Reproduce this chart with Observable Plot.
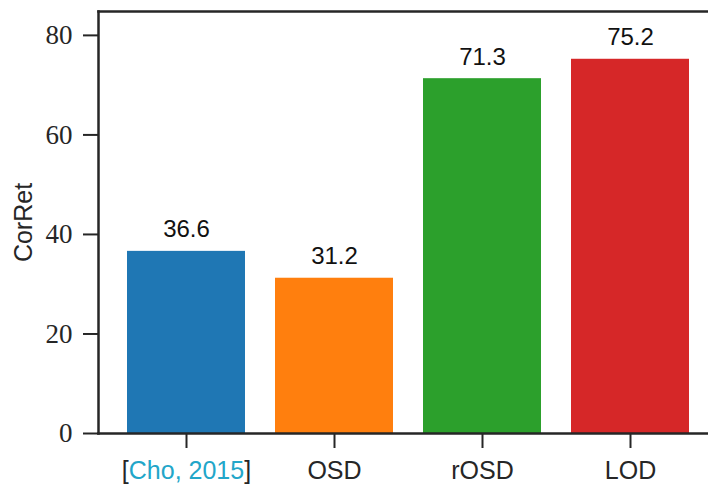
<!DOCTYPE html>
<html><head><meta charset="utf-8">
<script src="https://cdn.jsdelivr.net/npm/d3@7"></script>
<script src="https://cdn.jsdelivr.net/npm/@observablehq/plot@0.6"></script>
<style>body{margin:0;background:#fff} #chart{width:708px;height:486px}</style>
</head><body><div id="chart"></div>
<script>
const categories = ["[Cho, 2015]", "OSD", "rOSD", "LOD"];
const values = [36.6, 31.2, 71.3, 75.2];
const colors = ["#1f77b4", "#ff7f0e", "#2ca02c", "#d62728"];
const yTicks = [0, 20, 40, 60, 80];
const yLabel = "CorRet";
const citeColor = "#22a6c9";

const data = categories.map((c, i) => ({category: c, value: values[i], color: colors[i]}));
const ink = "#262626";

const chart = Plot.plot({
  width: 708, height: 486,
  marginLeft: 98, marginTop: 11, marginBottom: 53, marginRight: 0,
  style: {background: "#fff", color: ink, overflow: "hidden"},
  x: {domain: categories, range: [98, 718], paddingInner: 0.2, paddingOuter: 0.19, align: 0.5},
  y: {domain: [0, 84.8], range: [433, 11]},
  marks: [
    Plot.barY(data, {x: "category", y: "value", fill: "color"}),
    Plot.text(data, {x: "category", y: "value", text: d => d.value.toFixed(1), dy: -14, lineAnchor: "bottom",
      fontSize: 24, fontFamily: "Liberation Sans", fill: "#111"}),
    Plot.axisY({ticks: yTicks, tickSize: 15, tickPadding: 11, fontSize: 27, fontFamily: "Liberation Serif",
      label: null, strokeWidth: 2, stroke: ink, tickFormat: d => String(d)}),
    Plot.axisX({tickSize: 15, tickPadding: 13, fontSize: 25, fontFamily: "Liberation Sans",
      label: null, strokeWidth: 2, stroke: ink}),
    Plot.text([yLabel], {frameAnchor: "left", rotate: -90, dx: -75, textAnchor: "middle", lineAnchor: "middle",
      text: d => d, fontSize: 25, fontFamily: "Liberation Sans", fill: ink}),
    Plot.frame({anchor: "top", stroke: ink, strokeWidth: 2.5}),
    Plot.frame({anchor: "left", stroke: ink, strokeWidth: 2.5}),
    Plot.frame({anchor: "bottom", stroke: ink, strokeWidth: 2.5})
  ]
});

// colour the citation part of the first tick label
d3.select(chart).selectAll("text").each(function() {
  if (this.textContent === categories[0]) {
    const t = d3.select(this);
    t.text(null);
    t.append("tspan").text("[");
    t.append("tspan").attr("fill", citeColor).text(categories[0].slice(1, -1));
    t.append("tspan").text("]");
  }
});

document.getElementById("chart").appendChild(chart);
</script>
</body></html>
